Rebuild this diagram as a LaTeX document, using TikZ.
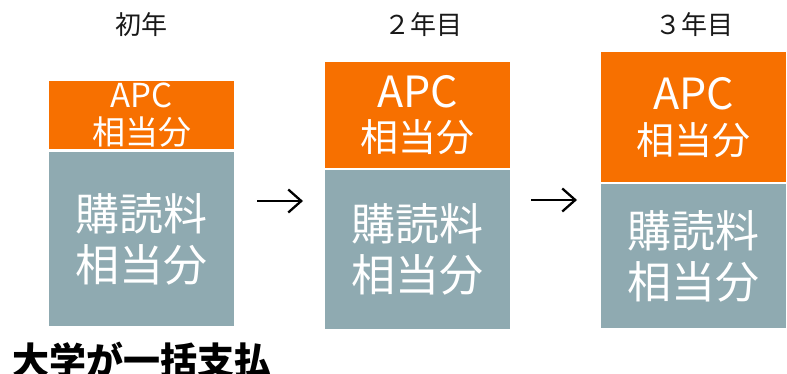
\documentclass[tikz,border=0pt]{standalone}
\usepackage{fontspec}
\setmainfont{Noto Sans CJK JP}
\usetikzlibrary{arrows.meta}
\definecolor{apcorange}{RGB}{247,112,0}
\definecolor{subgray}{RGB}{143,170,177}
\begin{document}
\begin{tikzpicture}[x=1pt,y=-1pt,
  boxbase/.style={rectangle,anchor=north west,inner sep=0pt,minimum width=185pt,
    text=white,align=center},
  apcbox/.style={boxbase,fill=apcorange},
  graybox/.style={boxbase,fill=subgray,font=\fontsize{44}{51}\selectfont},
  yearlabel/.style={inner sep=0pt,font=\fontsize{26}{30}\selectfont,text=black!90},
  stepArrow/.style={line width=2.3pt,-{Straight Barb[length=13pt,width=23pt]}}
]
\useasboundingbox (0,0) rectangle (787,374);
% labels
\node[yearlabel] (l1) at (141,25) {初年};
\node[yearlabel] (l2) at (423,25) {２年目};
\node[yearlabel] (l3) at (694,25) {３年目};
% year 1
\node[apcbox,minimum height=68pt,font=\fontsize{33}{37}\selectfont] (o1) at (49,81)
  {APC\\相当分};
\node[graybox,minimum height=174pt] (g1) at (49,152) {購読料\\相当分};
% year 2
\node[apcbox,minimum height=106pt,font=\fontsize{38}{44}\selectfont] (o2) at (325,62)
  {{\fontsize{43}{44}\selectfont APC}\\相当分};
\node[graybox,minimum height=159pt] (g2) at (325,170) {購読料\\相当分};
% year 3
\node[apcbox,minimum height=130pt,font=\fontsize{38}{45}\selectfont] (o3) at (601,52)
  {{\fontsize{43}{45}\selectfont APC}\\相当分};
\node[graybox,minimum height=144pt] (g3) at (601,184) {購読料\\相当分};
% arrows
\draw[stepArrow,shorten <=23pt,shorten >=22pt] (g1.east |- 0,201) -- (g2.west |- 0,201);
\draw[stepArrow,shorten <=21pt,shorten >=24pt] (g2.east |- 0,200) -- (g3.west |- 0,200);
% bottom
\node[anchor=base west,inner sep=0pt,font=\fontsize{37}{40}\selectfont\bfseries] (pay) at (12,374)
  {大学が一括支払};
\end{tikzpicture}
\end{document}
